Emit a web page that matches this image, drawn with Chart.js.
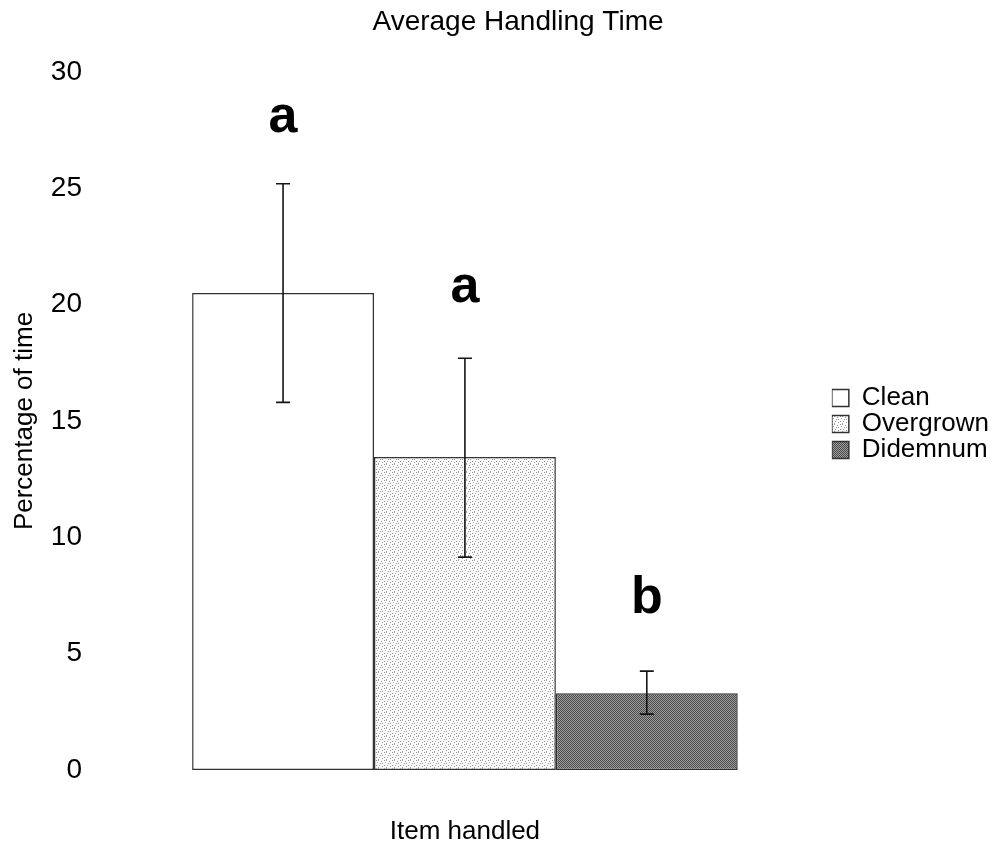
<!DOCTYPE html>
<html>
<head>
<meta charset="utf-8">
<title>Average Handling Time</title>
<script src="https://cdn.jsdelivr.net/npm/chart.js@4/dist/chart.umd.min.js"></script>
<style>
  body { margin: 0; background: #fff; }
  canvas { display: block; }
</style>
</head>
<body>
<canvas id="chart" width="1007" height="848"></canvas>
<script>
// data
const categories = [''];
const seriesNames = ['Clean', 'Overgrown', 'Didemnum'];
const meanValues = [20.5, 13.45, 3.3];
const errLow = [15.8, 9.15, 2.4];
const errHigh = [25.2, 17.7, 4.25];
const letters = ['a', 'a', 'b'];
const letterValues = [27.4, 20.1, 6.75];
const yTicks = [0, 5, 10, 15, 20, 25, 30];

const FONT = '"Liberation Sans", Arial, sans-serif';

// fill textures for the scanned-looking bars
function makePattern(size, bg, dots) {
    const c = document.createElement('canvas');
    c.width = size; c.height = size;
    const g = c.getContext('2d');
    g.fillStyle = bg;
    g.fillRect(0, 0, size, size);
    dots.forEach(d => {
        g.fillStyle = d[2];
        g.fillRect(d[0], d[1], 1, 1);
    });
    return g.createPattern(c, 'repeat');
}

const ctx = document.getElementById('chart').getContext('2d');

const overgrownFill = makePattern(8, '#ffffff', [
    [0, 0, '#8a8a8a'], [2, 0, '#9a9a9a'], [5, 1, '#8a8a8a'], [1, 2, '#a0a0a0'],
    [4, 3, '#8a8a8a'], [6, 3, '#9a9a9a'], [0, 5, '#8a8a8a'], [3, 5, '#a0a0a0'],
    [6, 6, '#8a8a8a'], [2, 7, '#9a9a9a']
]);
const checker = [];
for (let y = 0; y < 4; y++) {
    for (let x = 0; x < 4; x++) {
        if ((x + y) % 2 === 0) checker.push([x, y, '#474747']);
    }
}
const didemnumFill = makePattern(4, '#a0a0a0', checker);

const fills = ['#ffffff', overgrownFill, didemnumFill];

const errorBars = {
    id: 'errorBars',
    afterDatasetsDraw(chart) {
        const c = chart.ctx;
        const y = chart.scales.y;
        c.save();
        c.strokeStyle = '#151515';
        c.lineWidth = 1.6;
        chart.data.datasets.forEach((ds, i) => {
            const bar = chart.getDatasetMeta(i).data[0];
            const top = y.getPixelForValue(errHigh[i]);
            const bot = y.getPixelForValue(errLow[i]);
            c.beginPath();
            c.moveTo(bar.x, top); c.lineTo(bar.x, bot);
            c.moveTo(bar.x - 7, top); c.lineTo(bar.x + 7, top);
            c.moveTo(bar.x - 7, bot); c.lineTo(bar.x + 7, bot);
            c.stroke();
        });
        // significance letters
        c.fillStyle = '#000';
        c.font = 'bold 52px ' + FONT;
        c.textAlign = 'center';
        c.textBaseline = 'alphabetic';
        chart.data.datasets.forEach((ds, i) => {
            const bar = chart.getDatasetMeta(i).data[0];
            c.fillText(letters[i], bar.x, y.getPixelForValue(letterValues[i]));
        });
        c.restore();
    }
};

new Chart(ctx, {
    type: 'bar',
    data: {
        labels: categories,
        datasets: seriesNames.map((name, i) => ({
            label: name,
            data: [meanValues[i]],
            backgroundColor: fills[i],
            borderColor: '#333333',
            borderWidth: 1.5,
            borderSkipped: false,
            categoryPercentage: 0.7435,
            barPercentage: 1.0
        }))
    },
    options: {
        responsive: false,
        animation: false,
        layout: { padding: { left: 37, right: 8, top: 0, bottom: 0 } },
        scales: {
            x: {
                grid: { display: false, drawTicks: false },
                border: { display: false },
                ticks: { display: false },
                title: {
                    display: true,
                    text: 'Item handled',
                    color: '#000',
                    font: { family: FONT, size: 26 },
                    padding: { top: 46.4, bottom: 0.4 }
                }
            },
            y: {
                min: 0,
                max: 30,
                afterBuildTicks(scale) {
                    scale.ticks = yTicks.map(v => ({ value: v }));
                },
                afterFit(scale) {
                    scale.width = 61;
                },
                grid: { display: false, drawTicks: false },
                border: { display: false },
                ticks: {
                    color: '#000',
                    font: { family: FONT, size: 28 },
                    padding: 16
                },
                title: {
                    display: true,
                    text: 'Percentage of time',
                    color: '#000',
                    font: { family: FONT, size: 26 },
                    padding: { top: -27.6, bottom: 0 }
                }
            }
        },
        plugins: {
            title: {
                display: true,
                text: 'Average Handling Time',
                color: '#000',
                font: { family: FONT, size: 28, weight: 'normal' },
                padding: { top: 5.2, bottom: 33.2 }
            },
            legend: {
                position: 'right',
                labels: {
                    color: '#000',
                    font: { family: FONT, size: 26 },
                    boxWidth: 17,
                    boxHeight: 17,
                    padding: 0
                }
            },
            tooltip: { enabled: false }
        }
    },
    plugins: [errorBars]
});
</script>
</body>
</html>
